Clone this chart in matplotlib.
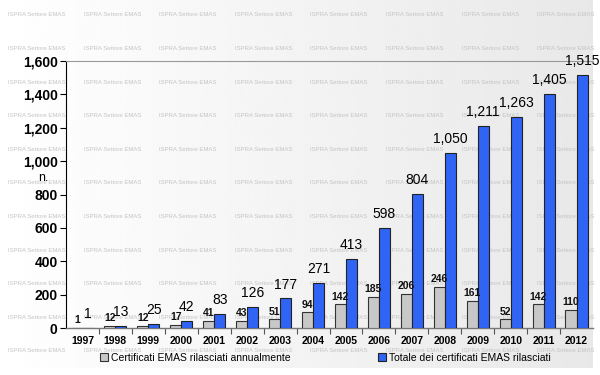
import numpy as np
import matplotlib.pyplot as plt
from matplotlib.ticker import FuncFormatter, FixedLocator

plt.rcParams['font.family'] = ['Liberation Sans', 'DejaVu Sans']

anni = ['1997', '1998', '1999', '2000', '2001', '2002', '2003', '2004',
        '2005', '2006', '2007', '2008', '2009', '2010', '2011', '2012']
annuali = [1, 12, 12, 17, 41, 43, 51, 94, 142, 185, 206, 246, 161, 52, 142, 110]
totali = [1, 13, 25, 42, 83, 126, 177, 271, 413, 598, 804, 1050, 1211, 1263, 1405, 1515]

fig = plt.figure(figsize=(6, 3.75), dpi=100)
fig.patch.set_facecolor('white')

# sfondo sfumato con filigrana
bg = fig.add_axes([0, 0, 1, 1], zorder=-10)
grad = np.linspace(1.0, 0.91, 256).reshape(1, -1)
bg.imshow(grad, cmap='gray', vmin=0, vmax=1, aspect='auto',
          extent=[0, 593, 375 - 368, 375], interpolation='bicubic')
bg.set_xlim(0, 600)
bg.set_ylim(0, 375)
bg.axis('off')
for yy in np.arange(15, 360, 33.6):
    for xx in np.arange(8, 590, 75.6):
        bg.text(xx, 375 - yy, 'ISPRA Settore EMAS', fontsize=4.3, color='#c4c4c4',
                va='center', ha='left')

ax = fig.add_axes([66 / 600, 1 - 328 / 375, (593 - 66) / 600, (328 - 61) / 375])
ax.patch.set_alpha(0)

x = np.arange(len(anni))
w = 0.335
b1 = ax.bar(x - w / 2, annuali, w, color='#c8c8c8', edgecolor='#333333', linewidth=0.8,
            label='Certificati EMAS rilasciati annualmente', zorder=3)
b2 = ax.bar(x + w / 2, totali, w, color='#2f64f5', edgecolor='#222222', linewidth=0.8,
            label='Totale dei certificati EMAS rilasciati', zorder=3)

for xi, v in zip(x, annuali):
    ax.annotate(f'{v:,}', (xi - w / 2, v), xytext=(0, 2), textcoords='offset points',
                ha='center', va='bottom', fontsize=7.5, fontweight='bold', color='#111111')
for xi, v in zip(x, totali):
    ax.annotate(f'{v:,}', (xi + w / 2, v), xytext=(0, 5), textcoords='offset points',
                ha='center', va='bottom', fontsize=10, color='black')

ax.set_xlim(-0.5, len(anni) - 0.5)
ax.set_ylim(0, 1600)
ax.set_yticks(range(0, 1601, 200))
ax.yaxis.set_major_formatter(FuncFormatter(lambda v, p: f'{int(v):,}'))
ax.tick_params(axis='y', labelsize=10, length=4, width=0.8, pad=2)
for t in ax.get_yticklabels():
    t.set_fontweight('bold')

ax.set_xticks(x)
ax.set_xticklabels(anni, fontsize=7.5, fontweight='bold')
ax.tick_params(axis='x', which='major', length=0, pad=6)
ax.xaxis.set_minor_locator(FixedLocator(np.arange(0.5, len(anni) - 0.5, 1)))
ax.tick_params(axis='x', which='minor', length=4, color='#555555', width=0.8)

ax.spines['right'].set_visible(False)
ax.spines['top'].set_color('#999999')
ax.spines['top'].set_linewidth(0.8)
ax.spines['bottom'].set_color('#777777')
ax.spines['bottom'].set_linewidth(1.0)
ax.spines['left'].set_color('black')
ax.spines['left'].set_linewidth(0.8)

fig.text(38 / 600, 1 - 178 / 375, 'n.', fontsize=9, ha='left', va='center')

fig.legend(handles=[b1, b2], loc='center left', bbox_to_anchor=(100 / 600, 1 - 358 / 375),
           ncol=2, frameon=False, fontsize=7.5, handlelength=0.8, handleheight=0.8,
           handletextpad=0.3, columnspacing=8.3, borderaxespad=0, borderpad=0)

fig.savefig('out.png', dpi=100)
